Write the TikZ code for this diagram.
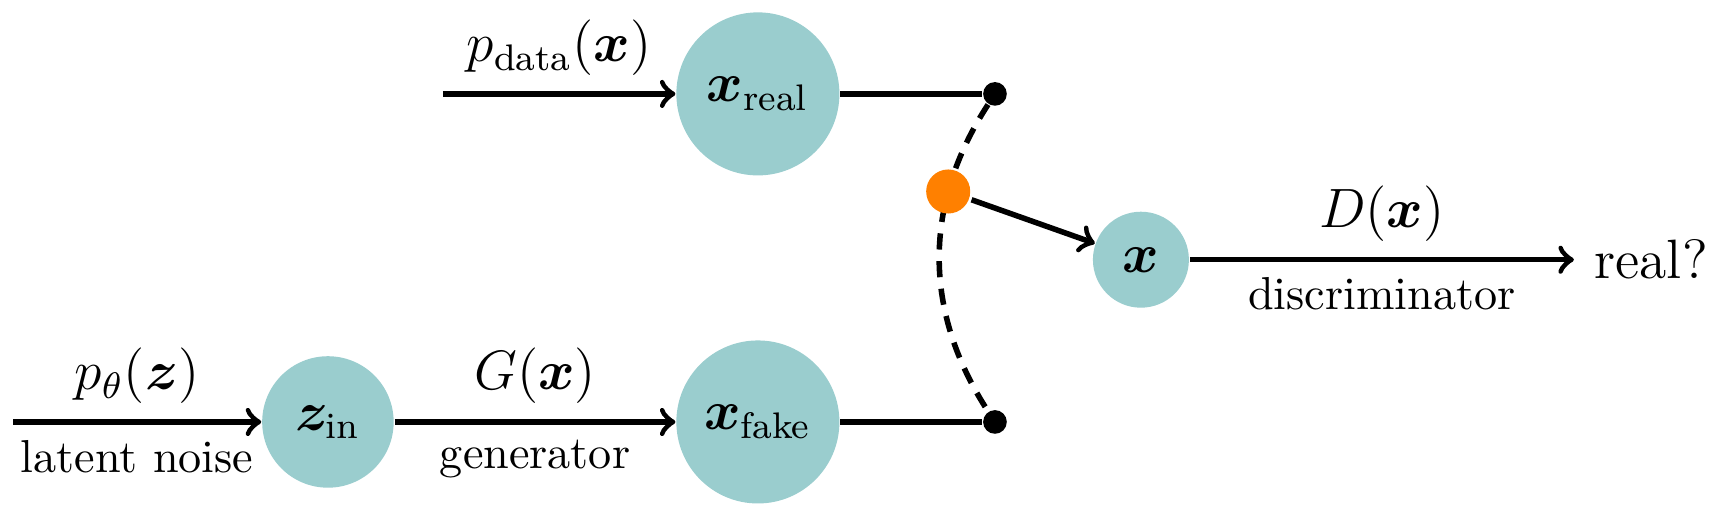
\documentclass[tikz,border=0pt]{standalone}
\usepackage{amsmath,bm}
\definecolor{tealc}{RGB}{154,205,206}
\definecolor{orng}{RGB}{255,128,0}
\begin{document}
\begin{tikzpicture}[
  unit/.style={circle, fill=tealc, inner sep=0pt, minimum size=#1, font=\large},
  blackdot/.style={circle, fill=black, inner sep=0pt, minimum size=0.18cm},
  switchdot/.style={circle, fill=orng, inner sep=0pt, minimum size=0.335cm},
  conn/.style={very thick},
  lbl/.style={font=\large},
]
\useasboundingbox (0,0) rectangle (13.18,3.855);
\node[unit=1.24cm] (xr) at (5.764,3.141) {$\bm{x}_{\text{real}}$};
\node[unit=1.24cm] (xf) at (5.764,0.646) {$\bm{x}_{\text{fake}}$};
\node[unit=1.0cm] (z) at (2.494,0.646) {$\bm{z}_{\text{in}}$};
\node[unit=0.73cm] (x) at (8.677,1.88) {$\bm{x}$};
\node[blackdot] (dr) at (7.567,3.141) {};
\node[blackdot] (df) at (7.567,0.646) {};
\coordinate (in1) at (0.099,0.646);
\coordinate (in2) at (3.369,3.141);
\node[font=\large, anchor=west, inner sep=0pt] (out) at (12.12,1.88) {real?};
\draw[conn,->] (in1) -- node[above,lbl]{$p_\theta(\bm{z})$} node[below]{latent noise} (z);
\draw[conn,->] (z) -- node[above,lbl]{$G(\bm{x})$} node[below]{generator} (xf);
\draw[conn,->] (in2) -- node[above,lbl]{$p_{\text{data}}(\bm{x})$} (xr);
\draw[conn] (xr) -- (dr);
\draw[conn] (xf) -- (df);
\draw[conn,->] (x) -- node[above,lbl]{$D(\bm{x})$} node[below]{discriminator} ([xshift=-1.5mm]out.west);
\draw[conn,dash pattern=on 3.5pt off 2.5pt] (dr) to[bend right=33] node[pos=0.285, switchdot] (sw) {} (df);
\draw[conn,->] (sw) -- (x);
\end{tikzpicture}
\end{document}
